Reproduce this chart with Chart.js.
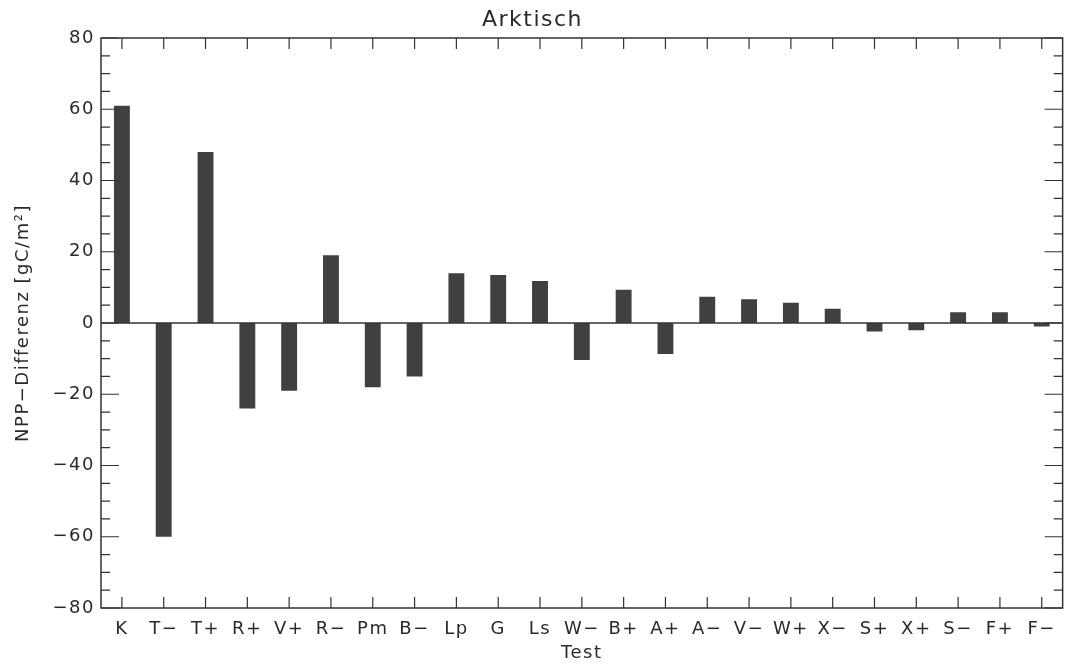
<!DOCTYPE html>
<html>
<head>
<meta charset="utf-8">
<script src="https://cdn.jsdelivr.net/npm/chart.js@4"></script>
<style>
  body { margin: 0; background: #fff; }
  #wrap { width: 1067px; height: 665px; }
</style>
</head>
<body>
<div id="wrap"><canvas id="chart" width="1067" height="665"></canvas></div>
<script>
// data
var tests = ["K","T\u2212","T+","R+","V+","R\u2212","Pm","B\u2212","Lp","G","Ls","W\u2212","B+","A+","A\u2212","V\u2212","W+","X\u2212","S+","X+","S\u2212","F+","F\u2212"];
var nppDiff = [61,-60,48,-24,-19,19,-18,-15,14,13.5,11.8,-10.4,9.3,-8.7,7.4,6.7,5.7,4,-2.4,-2,3,3,-1];
var yTicks = [-80,-60,-40,-20,0,20,40,60,80];

var ink = "#2a2a2a";
var fontName = "'DejaVu Sans', sans-serif";

// wide spaced lettering, closer to the plotter font
var spacing = {
    id: "spacing",
    beforeLayout: function(chart) { chart.ctx.letterSpacing = "1.5px"; },
    beforeDraw: function(chart) { chart.ctx.letterSpacing = "1.5px"; }
};

// frame, zero line and inward ticks like the original plot
var frameTicks = {
    id: "frameTicks",
    afterDatasetsDraw: function(chart)
    {
        var c = chart.ctx, a = chart.chartArea;
        var xs = chart.scales.x, ys = chart.scales.y;
        c.save();
        c.strokeStyle = "#333";
        c.lineWidth = 1.5;
        c.strokeRect(a.left, a.top, a.right - a.left, a.bottom - a.top);
        // zero line
        var y0 = ys.getPixelForValue(0);
        c.beginPath();
        c.moveTo(a.left, y0);
        c.lineTo(a.right, y0);
        c.stroke();
        c.lineWidth = 1.2;
        c.beginPath();
        for (var i = 0; i < tests.length; i++)
        {
            var x = xs.getPixelForValue(i);
            c.moveTo(x, a.bottom); c.lineTo(x, a.bottom - 11);
            c.moveTo(x, a.top); c.lineTo(x, a.top + 11);
        }
        for (var v = -80; v <= 80; v += 5)
        {
            var y = ys.getPixelForValue(v);
            var len = (v % 20 === 0) ? 18 : 9;
            c.moveTo(a.left, y); c.lineTo(a.left + len, y);
            c.moveTo(a.right, y); c.lineTo(a.right - len, y);
        }
        c.stroke();
        c.restore();
    }
};

var ctx = document.getElementById("chart").getContext("2d");
var mychart = new Chart(ctx, {
    type: 'bar',
    data: {
        labels: tests,
        datasets: [{
            label: "NPP-Differenz",
            data: nppDiff,
            backgroundColor: "#404040",
            borderColor: "#404040",
            borderWidth: 0,
            barPercentage: 0.38,
            categoryPercentage: 1.0,
        }],
    },
    options: {
        responsive: false,
        animation: false,
        layout: { padding: { top: 0, right: 2, bottom: 0, left: 0 } },
        plugins: {
            legend: { display: false },
            tooltip: { enabled: false },
            title: {
                display: true,
                text: "Arktisch",
                color: ink,
                font: { family: fontName, size: 22, weight: 'normal' },
                padding: { top: 7, bottom: 4.6 },
                align: 'center',
            },
        },
        scales: {
            x: {
                offset: true,
                grid: { display: false, drawTicks: false },
                border: { display: false },
                ticks: { color: ink, font: { family: fontName, size: 18 }, padding: 11, maxRotation: 0, autoSkip: false },
                title: { display: true, text: "Test", color: ink, font: { family: fontName, size: 18 }, padding: { top: 0, bottom: 1 } },
                afterFit: function(s) { s.height = 57; },
            },
            y: {
                min: -80,
                max: 80,
                afterBuildTicks: function(s) { s.ticks = yTicks.map(function(v) { return { value: v }; }); },
                grid: { display: false, drawTicks: false },
                border: { display: false },
                ticks: {
                    color: ink,
                    font: { family: fontName, size: 18 },
                    padding: 6,
                    callback: function(v) { return String(v).replace("-", "\u2212"); },
                },
                title: { display: true, text: "NPP\u2212Differenz [gC/m\u00b2]", color: ink, font: { family: fontName, size: 18 }, padding: { top: 13, bottom: 0 } },
                afterFit: function(s) { s.width = 101; },
            },
        },
    },
    plugins: [spacing, frameTicks],
});
</script>
</body>
</html>
